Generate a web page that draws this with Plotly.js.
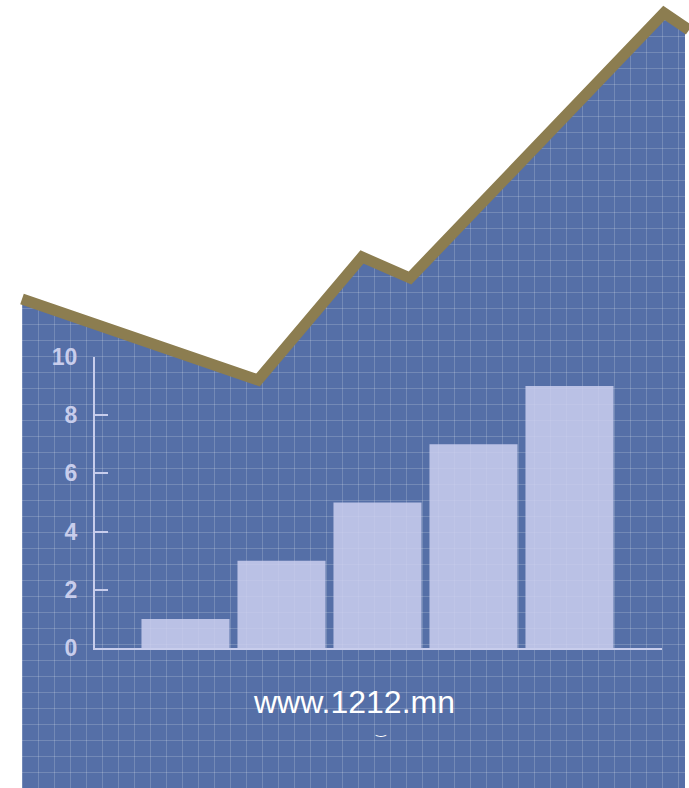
<!DOCTYPE html>
<html>
<head>
<meta charset="utf-8">
<script src="https://cdn.plot.ly/plotly-3.0.1.min.js"></script>
<style>html,body{margin:0;padding:0;background:#fff;}#chart{width:689px;height:788px;}</style>
</head>
<body>
<div id="chart"></div>
<script>
// Decorative trend line (page pixel coordinates)
const trendX = [22, 258, 362, 410, 664, 689];
const trendY = [299, 380, 257, 278, 13, 30];

// Bar chart data
const barX = [1, 2, 3, 4, 5];
const barValues = [1, 3, 5, 7, 9];
const yTicks = [0, 2, 4, 6, 8, 10];
const siteText = 'www.1212.mn';

const W = 689, H = 788;
const blue = 'rgb(85,111,167)';
const gold = 'rgb(140,125,80)';
const pale = 'rgb(200,205,236)';

// white cover polygon above the trend line and left strip
const coverX = [0, trendX[0]].concat(trendX).concat([W + 5, -5]);
const coverY = [H + 5, H + 5].concat(trendY).concat([-5, -5]);

const xr0 = 1 - 90.5 / 96, xr1 = xr0 + 567 / 96;

const traces = [
  {x: coverX, y: coverY, type: 'scatter', mode: 'lines', fill: 'toself',
   fillcolor: '#ffffff', line: {width: 0, color: '#ffffff'}, hoverinfo: 'skip',
   xaxis: 'x', yaxis: 'y'},
  {x: trendX, y: trendY, type: 'scatter', mode: 'lines',
   line: {color: gold, width: 11}, hoverinfo: 'skip', xaxis: 'x', yaxis: 'y'},
  {x: barX, y: barValues, type: 'bar', width: 0.917,
   marker: {color: 'rgba(204,208,240,0.85)', line: {width: 0}},
   xaxis: 'x2', yaxis: 'y2'}
];

const gridCol = 'rgba(255,255,255,0.18)';
const layout = {
  width: W, height: H,
  margin: {l: 0, r: 0, t: 0, b: 0, pad: 0},
  paper_bgcolor: blue,
  plot_bgcolor: 'rgba(0,0,0,0)',
  showlegend: false,
  xaxis: {domain: [0, 1], range: [0, W], showgrid: true, dtick: 16, tick0: 6,
          gridcolor: gridCol, gridwidth: 1, showticklabels: false, zeroline: false,
          showline: false, ticks: '', fixedrange: true},
  yaxis: {domain: [0, 1], range: [H, 0], showgrid: true, dtick: 16, tick0: 4,
          gridcolor: gridCol, gridwidth: 1, showticklabels: false, zeroline: false,
          showline: false, ticks: '', fixedrange: true},
  xaxis2: {domain: [95 / W, 662 / W], range: [xr0, xr1], anchor: 'y2',
           showline: true, linecolor: pale, linewidth: 2, showgrid: false, zeroline: false,
           ticks: 'inside', tickvals: [xr1 - 0.01], ticklen: 7, tickwidth: 2, tickcolor: pale,
           showticklabels: false, fixedrange: true},
  yaxis2: {domain: [(H - 648) / H, (H - 357) / H], range: [0, 10], anchor: 'x2',
           showline: true, linecolor: pale, linewidth: 2, showgrid: false, zeroline: false,
           ticks: 'inside', tickvals: yTicks, ticktext: yTicks.map(String), ticklen: 13,
           tickwidth: 2, tickcolor: pale, ticklabelstandoff: 11,
           tickfont: {family: 'Liberation Sans, Arial, sans-serif', size: 23, color: pale, weight: 'bold'},
           fixedrange: true},
  shapes: [
    {type: 'rect', xref: 'paper', yref: 'paper', x0: 685 / W, x1: 1.01, y0: -0.01, y1: 1.01,
     fillcolor: '#ffffff', line: {width: 0}, layer: 'below'}
  ],
  annotations: [
    {xref: 'paper', yref: 'paper', x: 354 / W, y: 1 - 702 / H, xanchor: 'center', yanchor: 'middle',
     text: siteText, showarrow: false,
     font: {family: 'Liberation Sans, Arial, sans-serif', size: 32, color: '#ffffff'}},
    {xref: 'paper', yref: 'paper', x: 381 / W, y: 1 - 730 / H, xanchor: 'center', yanchor: 'middle',
     text: '‿', showarrow: false,
     font: {family: 'DejaVu Sans, sans-serif', size: 12, color: '#ffffff'}}
  ]
};

Plotly.newPlot('chart', traces, layout, {staticPlot: true, displayModeBar: false});
</script>
</body>
</html>
